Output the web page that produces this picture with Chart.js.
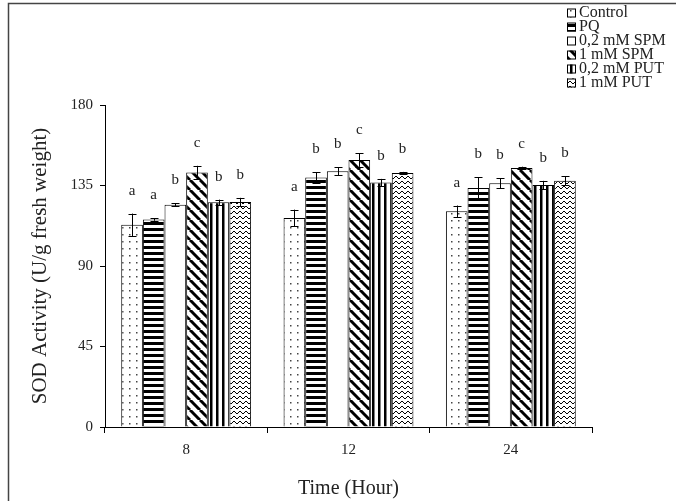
<!DOCTYPE html>
<html>
<head>
<meta charset="utf-8">
<script src="https://cdn.jsdelivr.net/npm/chart.js@4.4.0/dist/chart.umd.min.js"></script>
<style>
  html, body { margin: 0; padding: 0; background: #fff; }
  #wrap { width: 676px; height: 501px; }
</style>
</head>
<body>
<div id="wrap"><canvas id="c" width="676" height="501"></canvas></div>
<script>
// Données
const hours = ['8', '12', '24'];
const seriesNames = ['Control', 'PQ', '0,2 mM SPM', '1 mM SPM', '0,2 mM PUT', '1 mM PUT'];
const controlVals = [113, 116.9, 120.6];
const pqVals = [116, 139.5, 133.6];
const spm02Vals = [124.3, 142.9, 136.2];
const spm1Vals = [142.3, 149.2, 144.8];
const put02Vals = [125.6, 136.7, 135.3];
const put1Vals = [125.8, 142, 137.7];
const controlErr = [6.3, 4.6, 3.2];
const pqErr = [0.7, 3, 6];
const spm02Err = [0.8, 2.3, 2.8];
const spm1Err = [3.7, 3.8, 0.7];
const put02Err = [1.5, 2, 2.3];
const put1Err = [2.3, 0.6, 2.6];
const letters8 = ['a', 'a', 'b', 'c', 'b', 'b'];
const letters12 = ['a', 'b', 'b', 'c', 'b', 'b'];
const letters24 = ['a', 'b', 'b', 'c', 'b', 'b'];
const yTicks = [0, 45, 90, 135, 180];

const FONT = '"Liberation Serif", "Times New Roman", serif';

// Motifs de remplissage
function makePattern(kind) {
    const c = document.createElement('canvas');
    let w = 6, h = 6;
    if (kind === 'dots') { w = 7; h = 7; }
    if (kind === 'diag') { w = 10; h = 10; }
    if (kind === 'zigzag') { w = 6; h = 5; }
    c.width = w; c.height = h;
    const g = c.getContext('2d');
    g.fillStyle = '#fff';
    g.fillRect(0, 0, w, h);
    g.fillStyle = '#000';
    g.strokeStyle = '#000';
    if (kind === 'dots') {
        g.fillStyle = '#444';
        g.fillRect(3, 3, 1.5, 1.5);
    } else if (kind === 'hstripes') {
        g.fillRect(0, 0, w, 3);
    } else if (kind === 'vstripes') {
        g.fillRect(0, 0, 2.5, h);
    } else if (kind === 'diag') {
        g.lineWidth = 3;
        [-10, 0, 10].forEach(o => {
            g.beginPath();
            g.moveTo(o, 0);
            g.lineTo(o + 10, 10);
            g.stroke();
        });
    } else if (kind === 'zigzag') {
        g.lineWidth = 1;
        g.beginPath();
        g.moveTo(0, 1);
        g.lineTo(3, 4);
        g.lineTo(6, 1);
        g.stroke();
    }
    return g.createPattern(c, 'repeat');
}

const fills = [
    makePattern('dots'),
    makePattern('hstripes'),
    makePattern('none'),
    makePattern('diag'),
    makePattern('vstripes'),
    makePattern('zigzag')
];
const allVals = [controlVals, pqVals, spm02Vals, spm1Vals, put02Vals, put1Vals];
const allErr = [controlErr, pqErr, spm02Err, spm1Err, put02Err, put1Err];
const allLetters = [letters8, letters12, letters24];

const datasets = seriesNames.map((name, i) => ({
    label: name,
    data: allVals[i],
    backgroundColor: fills[i],
    borderColor: '#000',
    borderWidth: 1,
    borderSkipped: 'bottom',
    categoryPercentage: 0.8,
    barPercentage: 1
}));

// Cadre, barres d'erreur, lettres et légende
const extras = {
    id: 'extras',
    beforeDraw(chart) {
        const ctx = chart.ctx;
        ctx.save();
        ctx.strokeStyle = '#444';
        ctx.lineWidth = 1.5;
        ctx.beginPath();
        ctx.moveTo(8.5, 501);
        ctx.lineTo(8.5, 3.5);
        ctx.lineTo(676, 3.5);
        ctx.stroke();
        ctx.restore();
    },
    afterDatasetsDraw(chart) {
        const ctx = chart.ctx;
        const y = chart.scales.y;
        ctx.save();
        ctx.strokeStyle = '#000';
        ctx.lineWidth = 1;
        ctx.fillStyle = '#222';
        ctx.font = '15px ' + FONT;
        ctx.textAlign = 'center';
        ctx.textBaseline = 'alphabetic';
        chart.data.datasets.forEach((ds, i) => {
            const meta = chart.getDatasetMeta(i);
            meta.data.forEach((bar, j) => {
                const v = ds.data[j];
                const e = allErr[i][j];
                const top = y.getPixelForValue(v + e);
                const bot = y.getPixelForValue(v - e);
                const x = Math.round(bar.x) + 0.5;
                ctx.beginPath();
                ctx.moveTo(x, top);
                ctx.lineTo(x, bot);
                ctx.moveTo(x - 4, Math.round(top) + 0.5);
                ctx.lineTo(x + 4, Math.round(top) + 0.5);
                ctx.moveTo(x - 4, Math.round(bot) + 0.5);
                ctx.lineTo(x + 4, Math.round(bot) + 0.5);
                ctx.stroke();
                ctx.fillText(allLetters[j][i], bar.x, top - 19);
            });
        });
        // légende
        ctx.textAlign = 'left';
        ctx.textBaseline = 'middle';
        ctx.font = '16px ' + FONT;
        seriesNames.forEach((name, i) => {
            const ly = 13 + i * 14;
            ctx.fillStyle = fills[i];
            ctx.fillRect(567, ly - 4.5, 9, 9);
            ctx.strokeStyle = '#000';
            ctx.strokeRect(567.5, ly - 4, 8, 8);
            ctx.fillStyle = '#222';
            ctx.fillText(name, 579, ly);
        });
        ctx.restore();
    }
};

new Chart(document.getElementById('c').getContext('2d'), {
    type: 'bar',
    data: { labels: hours, datasets: datasets },
    options: {
        responsive: false,
        animation: false,
        events: [],
        layout: { padding: { left: 28, right: 84, top: 105, bottom: 0 } },
        plugins: {
            legend: { display: false },
            tooltip: { enabled: false }
        },
        scales: {
            x: {
                offset: true,
                afterFit: s => { s.height = 74; },
                grid: {
                    offset: true,
                    drawOnChartArea: false,
                    drawTicks: true,
                    tickLength: 6,
                    color: '#000'
                },
                border: { color: '#000', width: 1 },
                ticks: { color: '#222', font: { family: FONT, size: 15 }, padding: 8 },
                title: {
                    display: true,
                    text: 'Time (Hour)',
                    color: '#222',
                    font: { family: FONT, size: 20 },
                    padding: { top: 8, bottom: 0 }
                }
            },
            y: {
                min: 0,
                max: 180,
                afterFit: s => { s.width = 77; },
                afterBuildTicks: s => { s.ticks = yTicks.map(v => ({ value: v })); },
                grid: {
                    drawOnChartArea: false,
                    drawTicks: true,
                    tickLength: 5,
                    color: '#000'
                },
                border: { color: '#000', width: 1 },
                ticks: { color: '#222', font: { family: FONT, size: 15 }, padding: 7 },
                title: {
                    display: true,
                    text: 'SOD Activity (U/g fresh weight)',
                    color: '#222',
                    font: { family: FONT, size: 21 },
                    padding: { top: 0, bottom: 8 }
                }
            }
        }
    },
    plugins: [extras]
});
</script>
</body>
</html>
